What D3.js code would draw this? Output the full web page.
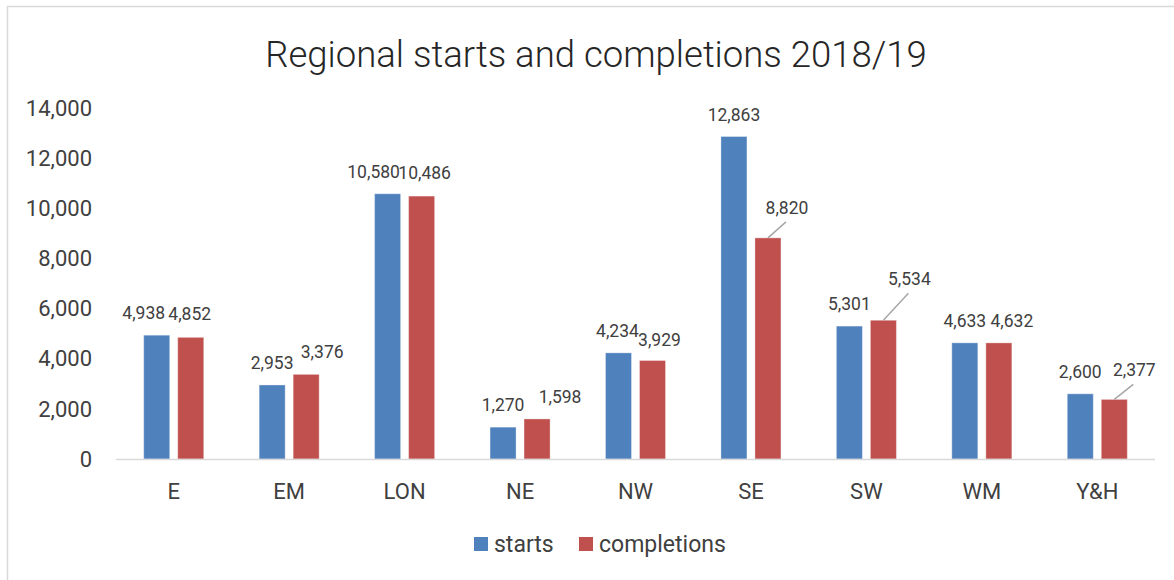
<!DOCTYPE html>
<html>
<head>
<meta charset="utf-8">
<script src="https://cdn.jsdelivr.net/npm/d3@7"></script>
<style>
  body { margin: 0; background: #fff; }
  svg text { font-family: Roboto, "Noto Sans", sans-serif; fill: #404040; }
</style>
</head>
<body>
<div id="chart"></div>
<script>
// data
const regions = ["E", "EM", "LON", "NE", "NW", "SE", "SW", "WM", "Y&H"];
const starts = [4938, 2953, 10580, 1270, 4234, 12863, 5301, 4633, 2600];
const completions = [4852, 3376, 10486, 1598, 3929, 8820, 5534, 4632, 2377];
const seriesNames = ["starts", "completions"];
const yTicks = [0, 2000, 4000, 6000, 8000, 10000, 12000, 14000];

// label placement tweaks (dx from bar centre, rise above bar top, leader line)
const startsLabelDx = [-13, 0, -14, 0, -1, 0, 0, 0, 0];
const complLabelDx = [-1, 16, 3, 23, 7, 19, 26, 13, 20];
const complLabelRise = [17, 16, 17, 16, 14, 24, 35, 16, 23];
const complLeader = [false, false, false, false, false, true, true, false, true];

const colors = { starts: "#4F81BD", completions: "#C0504D" };

const W = 1174, H = 580;
const svg = d3.select("#chart").append("svg")
    .attr("width", W)
    .attr("height", H);

// chart frame
svg.append("rect")
    .attr("x", 7.5).attr("y", 6.5)
    .attr("width", 1190).attr("height", 600)
    .attr("fill", "none")
    .attr("stroke", "#d9d9d9")
    .attr("stroke-width", 1.5);

svg.append("text")
    .attr("x", 596)
    .attr("y", 67)
    .attr("text-anchor", "middle")
    .style("font-size", "36.5px")
    .style("font-weight", 300)
    .style("fill", "#262626")
    .text("Regional starts and completions 2018/19");

const x0 = d3.scaleBand()
    .domain(regions)
    .range([116, 1155])
    .paddingInner(0.48)
    .paddingOuter(0.24);

const x1 = d3.scaleBand()
    .domain(seriesNames)
    .range([0, x0.bandwidth()])
    .paddingInner(0.235);

const y = d3.scaleLinear()
    .domain([0, 14000])
    .range([459, 108]);

const fmt = d3.format(",");

// y tick labels
svg.append("g")
    .selectAll("text")
    .data(yTicks)
    .enter()
    .append("text")
        .attr("x", 92)
        .attr("y", d => y(d))
        .attr("dy", "0.35em")
        .attr("text-anchor", "end")
        .style("font-size", "22px")
        .text(d => fmt(d));

const rows = regions.map((r, i) => ({
    region: r, i: i,
    values: [
        { key: "starts", value: starts[i] },
        { key: "completions", value: completions[i] }
    ]
}));

const groups = svg.append("g")
    .selectAll("g")
    .data(rows)
    .enter()
    .append("g")
        .attr("transform", d => "translate(" + x0(d.region) + ",0)");

groups.selectAll("rect")
    .data(d => d.values)
    .enter()
    .append("rect")
        .attr("x", d => x1(d.key))
        .attr("y", d => y(d.value))
        .attr("width", x1.bandwidth())
        .attr("height", d => y(0) - y(d.value))
        .attr("fill", d => colors[d.key])
        .attr("stroke", "#ffffff")
        .attr("stroke-opacity", 0.35)
        .attr("stroke-width", 1);

// x axis line
svg.append("line")
    .attr("x1", 116).attr("x2", 1155)
    .attr("y1", 459.5).attr("y2", 459.5)
    .attr("stroke", "#d9d9d9")
    .attr("stroke-width", 1.5);

// category labels
svg.append("g")
    .selectAll("text")
    .data(regions)
    .enter()
    .append("text")
        .attr("x", d => x0(d) + x0.bandwidth() / 2)
        .attr("y", 499)
        .attr("text-anchor", "middle")
        .style("font-size", "22px")
        .text(d => d);

// data labels
const labels = svg.append("g");
rows.forEach(r => {
    const sx = x0(r.region) + x1("starts") + x1.bandwidth() / 2;
    const cx = x0(r.region) + x1("completions") + x1.bandwidth() / 2;
    const sTop = y(starts[r.i]);
    const cTop = y(completions[r.i]);

    labels.append("text")
        .attr("x", sx + startsLabelDx[r.i])
        .attr("y", sTop - 16)
        .attr("text-anchor", "middle")
        .style("font-size", "17.5px")
        .text(fmt(starts[r.i]));

    const lx = cx + complLabelDx[r.i];
    const ly = cTop - complLabelRise[r.i];
    if (complLeader[r.i]) {
        labels.append("line")
            .attr("x1", cx).attr("y1", cTop)
            .attr("x2", lx - 1).attr("y2", ly + 8)
            .attr("stroke", "#a6a6a6")
            .attr("stroke-width", 1.5);
    }
    labels.append("text")
        .attr("x", lx)
        .attr("y", ly)
        .attr("text-anchor", "middle")
        .style("font-size", "17.5px")
        .text(fmt(completions[r.i]));
});

// legend
const legendItems = [
    { key: "starts", x: 474 },
    { key: "completions", x: 579 }
];
const legend = svg.append("g")
    .selectAll("g")
    .data(legendItems)
    .enter()
    .append("g")
        .attr("transform", d => "translate(" + d.x + ",537)");

legend.append("rect")
    .attr("width", 14).attr("height", 14)
    .attr("fill", d => colors[d.key]);

legend.append("text")
    .attr("x", 20)
    .attr("y", 15)
    .style("font-size", "23px")
    .text(d => d.key);
</script>
</body>
</html>
